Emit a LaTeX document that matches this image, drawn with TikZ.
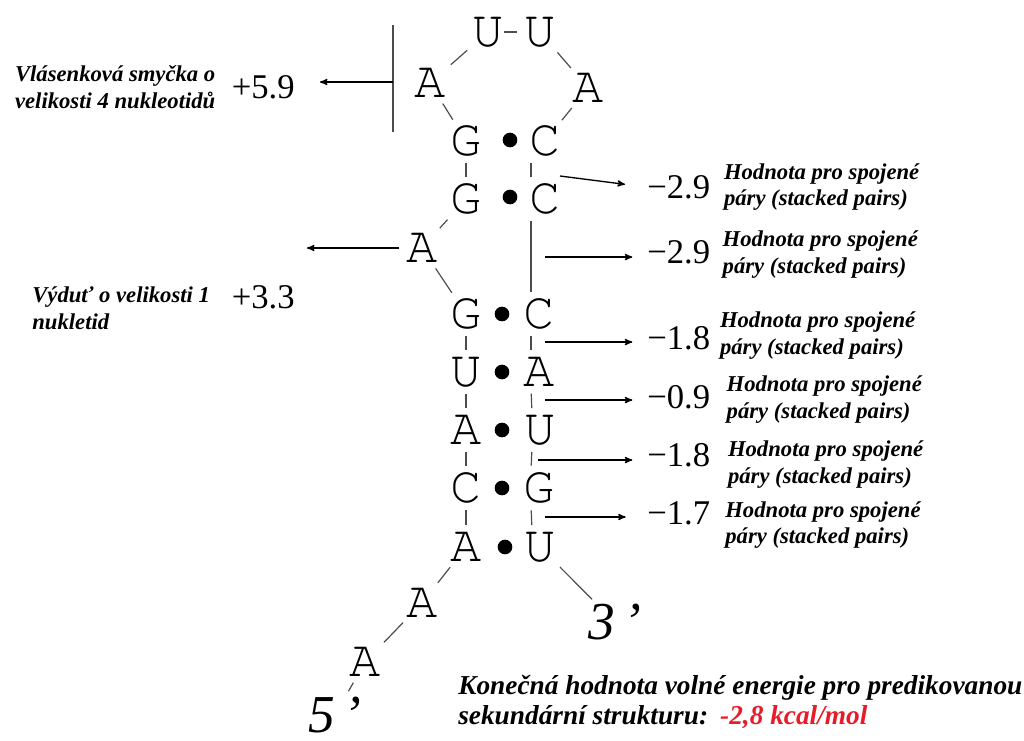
\documentclass[tikz,border=0pt]{standalone}
\usepackage{fontspec}
\setmainfont{Liberation Serif}
\newfontfamily\basefont{TeX Gyre Cursor}
\usetikzlibrary{arrows,positioning}
\definecolor{energyred}{RGB}{232,28,40}

\begin{document}
\begin{tikzpicture}[x=0.75pt,y=-0.75pt,>=stealth',node distance=10pt,
	base node/.style={font=\basefont\fontsize{39}{39}\selectfont, inner sep=0pt},
	end node/.style={font=\itshape\fontsize{40}{40}\selectfont, inner sep=0pt, anchor=north west},
	value node/.style={font=\fontsize{26}{26}\selectfont, inner sep=0pt},
	note node/.style={font=\bfseries\itshape\fontsize{17}{20}\selectfont, align=left, inner sep=0pt},
	pair node/.style={circle, fill=black, inner sep=0pt, minimum size=11pt},
	bond/.style={draw=black!70, line width=0.9pt, shorten >=5pt, shorten <=5pt},
	energy/.style={->, line width=1pt}]

\useasboundingbox (0,0) rectangle (1024,740);

% hairpin loop
\node[base node] (u1) at (488,32) {U};
\node[base node] (u2) at (540,32) {U};
\node[base node] (a1) at (430,83) {A};
\node[base node] (a2) at (588,88) {A};

% stem with bulge
\node[base node] (l1) at (466,141) {G};
\node[pair node] (p1) at (510,140) {};
\node[base node] (r1) at (545,141) {C};
\node[base node] (l2) at (466,199) {G};
\node[pair node] (p2) at (510,197) {};
\node[base node] (r2) at (545,199) {C};
\node[base node] (b) at (422,248) {A};
\node[base node] (l3) at (466,314) {G};
\node[pair node] (p3) at (502,314) {};
\node[base node] (r3) at (539,314) {C};
\node[base node] (l4) at (466,372) {U};
\node[pair node] (p4) at (502,372) {};
\node[base node] (r4) at (539,372) {A};
\node[base node] (l5) at (466,430) {A};
\node[pair node] (p5) at (502,430) {};
\node[base node] (r5) at (540,430) {U};
\node[base node] (l6) at (466,488) {C};
\node[pair node] (p6) at (502,488) {};
\node[base node] (r6) at (539,488) {G};
\node[base node] (l7) at (466,547) {A};
\node[pair node] (p7) at (505,547) {};
\node[base node] (r7) at (540,547) {U};

% tails
\node[base node] (t1) at (422,603) {A};
\node[base node] (t2) at (365,662) {A};
\node[end node] (five) at (308,697) {5\,’};
\node[end node] (three) at (588,604) {3\,’};

\path[bond]
(u1) edge [shorten <=0pt, shorten >=5pt] (u2)
(a1) edge (u1)
(u2) edge (a2)
(a1) edge (l1)
(a2) edge (r1)
(l1) edge (l2)
(l2) edge (b)
(b) edge (l3)
(l3) edge (l4)
(l4) edge (l5)
(l5) edge (l6)
(l6) edge (l7)
(l7) edge (t1)
(t1) edge (t2)
(t2) edge (five)
(r7) edge (three);
\path[bond]
([xshift=-10.5pt]r1.south) edge ([xshift=-10.5pt]r2.north)
([xshift=-10.5pt]r2.south) edge ([xshift=-6pt]r3.north)
([xshift=-6pt]r3.south) edge ([xshift=-6pt]r4.north)
([xshift=-6pt]r4.south) edge ([xshift=-6pt]r5.north)
([xshift=-6pt]r5.south) edge ([xshift=-6pt]r6.north)
([xshift=-6pt]r6.south) edge ([xshift=-6pt]r7.north);

% loop and bulge on the left
\node[value node, anchor=east] (v0) at (295,87) {+5.9};
\node[note node, left=12pt of v0] (n0) {Vlásenková smyčka o\\velikosti 4 nukleotidů};
\coordinate (bt) at (393,25);
\coordinate (bb) at (393,132);
\coordinate (bm) at (393,82);
\coordinate (h0) at (320,82);
\draw[line width=0.9pt, black!70] (bt) -- (bb);
\draw[energy] (bm) -- (h0);

\node[value node, anchor=east] (vb) at (295,297) {+3.3};
\node[note node, left=16pt of vb, yshift=-8.5pt] (nb) {Výduť o velikosti 1\\nukletid};
\coordinate (hb) at (307,248);
\draw[energy, shorten <=5pt] (b.west) -- (hb);

% stacked pairs on the right
\node[value node, anchor=west] (v1) at (647,187) {−2.9};
\node[value node, anchor=west] (v2) at (647,252) {−2.9};
\node[value node, anchor=west] (v3) at (647,338) {−1.8};
\node[value node, anchor=west] (v4) at (647,397) {−0.9};
\node[value node, anchor=west] (v5) at (647,455) {−1.8};
\node[value node, anchor=west] (v6) at (647,513) {−1.7};
\node[note node, right=10pt of v1] (n1) {Hodnota pro spojené\\páry (stacked pairs)};
\node[note node, right=9pt of v2, yshift=-2pt] (n2) {Hodnota pro spojené\\páry (stacked pairs)};
\node[note node, right=7pt of v3, yshift=2pt] (n3) {Hodnota pro spojené\\páry (stacked pairs)};
\node[note node, right=12pt of v4, yshift=-2pt] (n4) {Hodnota pro spojené\\páry (stacked pairs)};
\node[note node, right=13pt of v5, yshift=-7pt] (n5) {Hodnota pro spojené\\páry (stacked pairs)};
\node[note node, right=11pt of v6, yshift=-9pt] (n6) {Hodnota pro spojené\\páry (stacked pairs)};

\coordinate (s1) at (560,176);
\coordinate (s2) at (545,257);
\coordinate (s3) at (545,342);
\coordinate (s4) at (545,400);
\coordinate (s5) at (538,460);
\coordinate (s6) at (545,517);
\draw[energy] (s1) -- ([xshift=-16.5pt,yshift=2pt]v1.west);
\draw[energy, shorten >=11pt] (s2) -- (s2 -| v2.west);
\draw[energy, shorten >=11pt] (s3) -- (s3 -| v3.west);
\draw[energy, shorten >=11pt] (s4) -- (s4 -| v4.west);
\draw[energy, shorten >=11pt] (s5) -- (s5 -| v5.west);
\draw[energy, shorten >=16pt] (s6) -- (s6 -| v6.west);

% total
\node[note node, font=\bfseries\itshape\fontsize{20.5}{22.5}\selectfont, anchor=north west] (total) at (458,675) {Konečná hodnota volné energie pro predikovanou\\sekundární strukturu:\hspace{9pt}\textcolor{energyred}{-2,8 kcal/mol}};

\end{tikzpicture}
\end{document}
